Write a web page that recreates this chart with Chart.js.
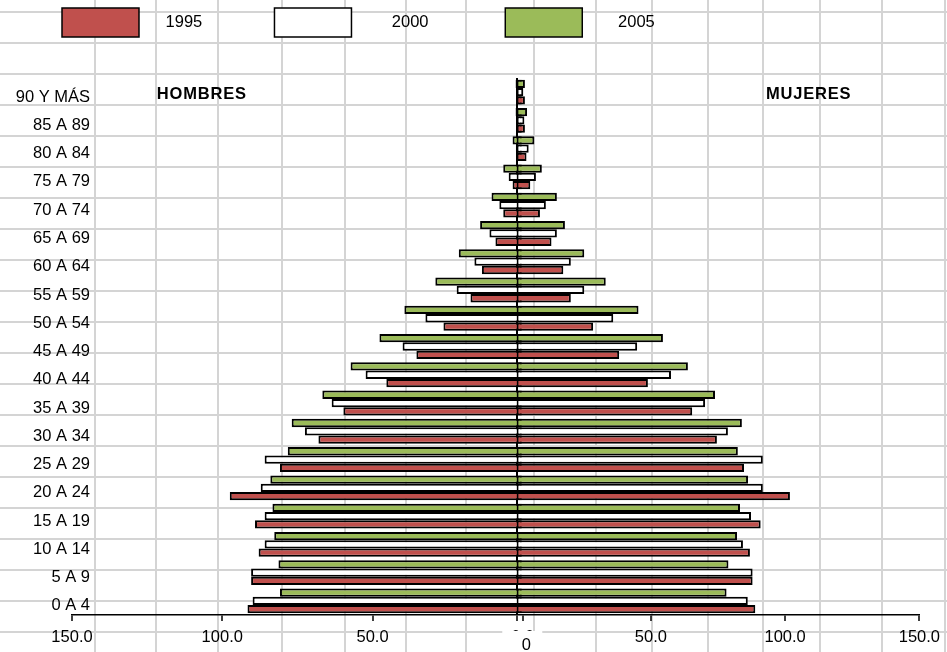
<!DOCTYPE html>
<html>
<head>
<meta charset="utf-8">
<title>Pirámide de población</title>
<script src="https://cdn.jsdelivr.net/npm/chart.js@4.4.1/dist/chart.umd.min.js"></script>
<style>
  html, body { margin: 0; padding: 0; background: #fff; }
</style>
</head>
<body>
<canvas id="piramide" width="947" height="652"></canvas>
<script>
// grupos de edad, de arriba hacia abajo
const grupos = ["90 Y MÁS", "85 A 89", "80 A 84", "75 A 79", "70 A 74", "65 A 69", "60 A 64",
  "55 A 59", "50 A 54", "45 A 49", "40 A 44", "35 A 39", "30 A 34", "25 A 29", "20 A 24",
  "15 A 19", "10 A 14", "5 A 9", "0 A 4"];

const hombres1995 = [2.2, 2.0, 2.1, 3.4, 6.5, 9.1, 13.6, 17.4, 26.4, 35.4, 45.4, 59.7, 68.0, 80.8, 97.5, 89.1, 87.9, 90.4, 91.6];
const hombres2000 = [2.0, 2.0, 2.3, 4.7, 7.8, 11.1, 16.1, 22.0, 32.4, 40.0, 52.3, 63.6, 72.5, 85.9, 87.2, 85.9, 85.9, 90.4, 89.9];
const hombres2005 = [2.4, 2.4, 3.4, 6.5, 10.4, 14.2, 21.3, 29.1, 39.4, 47.7, 57.3, 66.7, 76.9, 78.2, 84.0, 83.3, 82.7, 81.3, 80.8];

const mujeres1995 = [3.1, 3.1, 3.7, 5.1, 8.7, 13.0, 17.4, 20.2, 28.5, 38.2, 48.9, 65.4, 74.6, 84.7, 101.8, 90.9, 86.9, 87.9, 88.9];
const mujeres2000 = [2.5, 2.9, 4.5, 7.2, 10.9, 15.0, 20.2, 25.2, 36.0, 44.9, 57.5, 70.2, 78.7, 91.7, 91.7, 87.3, 84.3, 87.9, 86.1];
const mujeres2005 = [3.1, 3.9, 6.6, 9.4, 15.0, 18.0, 25.2, 33.2, 45.4, 54.5, 63.8, 73.9, 83.9, 82.4, 86.2, 83.2, 82.1, 78.9, 78.2];

const ticksHombres = [-150, -100, -50, 0];
const ticksMujeres = [0, 50, 100, 150];

// cada lado tiene su propia escala (dos graficos superpuestos en la hoja)
const rangoHombres = [-150, 131.96];
const rangoMujeres = [-165.58, 150];

const colores = { "1995": "#C0504D", "2000": "#FFFFFF", "2005": "#9BBB59" };
// espacios antes / despues del texto de la leyenda (como en la hoja)
const espaciosLeyenda = { "1995": [4, 14], "2000": [7, 15], "2005": [6, 0] };

// lineas de la hoja de calculo de fondo
const columnasHoja = [95, 156, 218, 282, 345, 406, 466, 534, 596, 652, 708, 763, 820, 882, 945];
const filaInicio = 12, altoFila = 31;

const fuente = "'Liberation Sans', Arial, sans-serif";
const tamFuente = 16.5;
Chart.defaults.font.family = fuente;
Chart.defaults.font.size = tamFuente;
Chart.defaults.color = "#000";

// ancho de la etiqueta mas larga, para alinear a la derecha en x = 90
const medidor = document.createElement("canvas").getContext("2d");
medidor.font = "normal " + tamFuente + "px " + fuente;
const anchoEtiquetas = Math.max(...grupos.map(g => medidor.measureText(g).width));

// valor de mujeres -> valor equivalente en el eje de hombres (mismo ancho en pixeles)
function aEjeHombres(v) {
  const f = (v - rangoMujeres[0]) / (rangoMujeres[1] - rangoMujeres[0]);
  return rangoHombres[0] + f * (rangoHombres[1] - rangoHombres[0]);
}
const ticksEjeX = [...ticksHombres, ...ticksMujeres.map(aEjeHombres)];
const etiquetasEjeX = [...ticksHombres.map(v => Math.abs(v).toFixed(1)),
  ...ticksMujeres.map(v => (v === 0 ? "" : v.toFixed(1)))];
const indiceCero = ticksHombres.length; // el 0 de mujeres lleva la linea central

function serie(anio, valores, eje, signo) {
  return {
    label: anio,
    data: valores.map(v => signo * v),
    xAxisID: eje,
    stack: anio,
    backgroundColor: colores[anio],
    borderColor: "#000",
    borderWidth: 2,
    borderSkipped: false,
    categoryPercentage: 0.88,
    barPercentage: 1.0
  };
}

const hoja = {
  id: "hoja",
  beforeLayout(chart) {
    const leg = chart.legend;
    if (leg && !leg._alto) {
      const fit = leg.fit;
      leg.fit = function () { fit.call(this); this.height = 78; };
      leg._alto = true;
    }
  },
  beforeDraw(chart) {
    const { ctx, width, height } = chart;
    ctx.save();
    ctx.fillStyle = "#fff";
    ctx.fillRect(0, 0, width, height);
    ctx.strokeStyle = "#d4d4d4";
    ctx.lineWidth = 2;
    ctx.beginPath();
    columnasHoja.forEach(x => { ctx.moveTo(x, 0); ctx.lineTo(x, height); });
    for (let y = filaInicio; y < height; y += altoFila) { ctx.moveTo(0, y); ctx.lineTo(width, y); }
    ctx.stroke();
    ctx.restore();
  },
  afterDraw(chart) {
    const { ctx, scales } = chart;
    const x0 = scales.xL.getPixelForValue(0);
    const yTop = scales.y.getPixelForValue(0);
    ctx.save();
    // celda blanca que tapa el "0.0"
    ctx.fillStyle = "#fff";
    ctx.fillRect(x0 - 20.5, 631, 40, chart.height - 631);
    ctx.fillStyle = "#000";
    ctx.textAlign = "center";
    ctx.textBaseline = "middle";
    ctx.font = tamFuente + "px " + fuente;
    ctx.fillText("0", x0 + 3.5, 645);
    ctx.font = "bold " + tamFuente + "px " + fuente;
    ctx.letterSpacing = "0.8px";
    ctx.fillText("HOMBRES", scales.xL.getPixelForValue(-106.8), yTop + 2);
    ctx.fillText("MUJERES", scales.xR.getPixelForValue(108.8), yTop + 2);
    ctx.restore();
  }
};

new Chart(document.getElementById("piramide"), {
  type: "bar",
  data: {
    labels: grupos,
    datasets: [
      serie("2005", mujeres2005, "xR", 1),
      serie("2000", mujeres2000, "xR", 1),
      serie("1995", mujeres1995, "xR", 1),
      serie("2005", hombres2005, "xL", -1),
      serie("2000", hombres2000, "xL", -1),
      serie("1995", hombres1995, "xL", -1)
    ]
  },
  options: {
    indexAxis: "y",
    responsive: false,
    animation: false,
    events: [],
    layout: { padding: { left: 54, right: 26.3, top: 0, bottom: 0 } },
    plugins: {
      tooltip: { enabled: false },
      legend: {
        position: "top",
        align: "start",
        labels: {
          boxWidth: 77,
          boxHeight: 29,
          padding: 8,
          color: "#000",
          generateLabels(chart) {
            const items = Chart.defaults.plugins.legend.labels.generateLabels(chart);
            return items.map(it => {
              const [a, d] = espaciosLeyenda[it.text];
              it.text = " ".repeat(a) + it.text + " ".repeat(d);
              it.lineWidth = 1.5;
              return it;
            });
          },
          filter: it => it.datasetIndex >= 3,
          sort: (a, b) => b.datasetIndex - a.datasetIndex
        }
      }
    },
    scales: {
      y: {
        type: "category",
        position: "left",
        grid: { display: false, drawTicks: false },
        border: { display: false },
        ticks: {
          color: "#000",
          mirror: true,
          crossAlign: "far",
          padding: 90 - 72 - anchoEtiquetas,
          labelOffset: 5,
          autoSkip: false
        },
        afterFit(s) { s.width = 18; }
      },
      xL: {
        type: "linear",
        position: "bottom",
        min: rangoHombres[0],
        max: rangoHombres[1],
        afterBuildTicks(s) { s.ticks = ticksEjeX.map(v => ({ value: v })); },
        grid: {
          color: c => (c.index === indiceCero ? "#000" : "rgba(0,0,0,0)"),
          lineWidth: 2,
          tickLength: 6,
          tickColor: "#000",
          tickWidth: 1.5
        },
        border: { display: true, color: "#000", width: 1.5 },
        ticks: {
          color: "#000",
          padding: 7,
          maxRotation: 0,
          autoSkip: false,
          callback: (v, i) => etiquetasEjeX[i]
        },
        afterFit(s) { s.height = 37; }
      },
      xR: {
        type: "linear",
        display: false,
        min: rangoMujeres[0],
        max: rangoMujeres[1]
      }
    }
  },
  plugins: [hoja]
});
</script>
</body>
</html>
